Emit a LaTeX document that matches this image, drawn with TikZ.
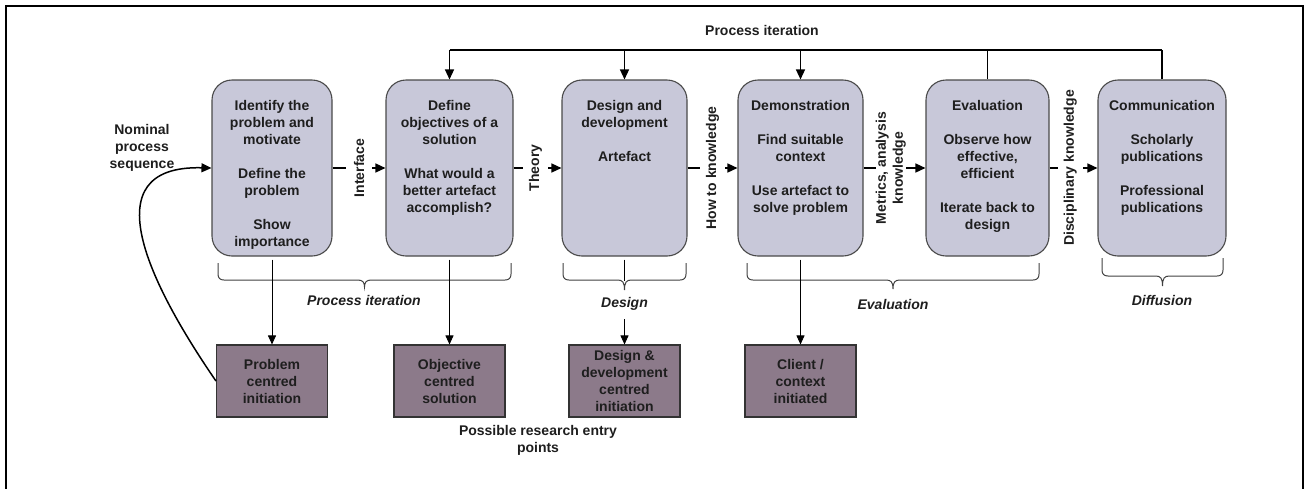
\documentclass[tikz,border=0pt]{standalone}
\usepackage{fontspec}
\setmainfont{Liberation Sans}
\usetikzlibrary{arrows.meta}

\definecolor{procfill}{HTML}{C8C8D9}
\definecolor{procline}{HTML}{4A4A4A}
\definecolor{entryfill}{HTML}{8C7A8A}
\definecolor{inkdark}{HTML}{1E1E1E}

% curly brace with long upright arms and a small downward cusp
% #1 left x, #2 right x, #3 arm top y, #4 bar y, #5 cusp tip y
\newcommand\phasebrace[5]{%
  \draw[bracepath] (#1,#3) -- (#1,{#4-6})
    .. controls (#1,{#4-2}) and ({#1+2},#4) .. ({#1+6},#4)
    -- ({(#1+#2)/2-7},#4)
    .. controls ({(#1+#2)/2-2},#4) and ({(#1+#2)/2},{#4+2}) .. ({(#1+#2)/2},#5)
    .. controls ({(#1+#2)/2},{#4+2}) and ({(#1+#2)/2+2},#4) .. ({(#1+#2)/2+7},#4)
    -- ({#2-6},#4)
    .. controls ({#2-2},#4) and (#2,{#4-2}) .. (#2,{#4-6})
    -- (#2,#3);}

\begin{document}
\begin{tikzpicture}[x=1pt,y=-1pt,
  font=\fontsize{14}{17}\selectfont\bfseries,
  stage/.style={draw=procline, line width=1.1pt, fill=procfill,
    rounded corners=20pt, minimum height=176pt, inner sep=0pt},
  stagetext/.style={anchor=north, align=center, inner sep=0pt, text=inkdark},
  entry/.style={draw=black!80, line width=1.1pt, fill=entryfill,
    minimum width=111pt, minimum height=72pt, align=center, inner sep=0pt,
    text=inkdark},
  flow/.style={line width=1.4pt, -{Triangle[length=10pt,width=9pt]}},
  iter/.style={line width=1.4pt},
  drop/.style={line width=0.9pt, -{Triangle[length=9pt,width=8pt]}},
  loopback/.style={line width=1.5pt, -{Triangle[length=10pt,width=9pt]}},
  gaplabel/.style={fill=white, rotate=90, inner xsep=1pt, align=center,
    text=inkdark},
  phase/.style={font=\fontsize{14}{17}\selectfont\bfseries\itshape,
    text=inkdark},
  plain/.style={align=center, text=inkdark},
  bracepath/.style={line width=1pt, draw=black!75}
]
\useasboundingbox (0,0) rectangle (1306,488);

% outer frame
\draw[line width=2pt] (6,495) -- (6,6) -- (1303,6) -- (1303,495);

% process stages
\node[stage, minimum width=120pt] (b1) at (272,168) {};
\node[stage, minimum width=127pt] (b2) at (449.5,168) {};
\node[stage, minimum width=125pt] (b3) at (624.5,168) {};
\node[stage, minimum width=125pt] (b4) at (800.5,168) {};
\node[stage, minimum width=123pt] (b5) at (987.5,168) {};
\node[stage, minimum width=128pt] (b6) at (1162,168) {};

\node[stagetext] (t1) at ([yshift=-19.5pt]b1.north)
  {\rule{0pt}{11pt}Identify the\\problem and\\motivate\\[17pt]Define the\\problem\\[17pt]Show\\importance};
\node[stagetext] (t2) at ([yshift=-19.5pt]b2.north)
  {\rule{0pt}{11pt}Define\\objectives of a\\solution\\[17pt]What would a\\better artefact\\accomplish?};
\node[stagetext] (t3) at ([yshift=-19.5pt]b3.north)
  {\rule{0pt}{11pt}Design and\\development\\[17pt]Artefact};
\node[stagetext] (t4) at ([yshift=-19.5pt]b4.north)
  {\rule{0pt}{11pt}Demonstration\\[17pt]Find suitable\\context\\[17pt]Use artefact to\\solve problem};
\node[stagetext] (t5) at ([yshift=-19.5pt]b5.north)
  {\rule{0pt}{11pt}Evaluation\\[17pt]Observe how\\effective,\\efficient\\[17pt]Iterate back to\\design};
\node[stagetext] (t6) at ([yshift=-19.5pt]b6.north)
  {\rule{0pt}{11pt}Communication\\[17pt]Scholarly\\publications\\[17pt]Professional\\publications};

% research entry points
\node[entry] (e1) at (272,381) {Problem\\centred\\initiation};
\node[entry] (e2) at (449.5,381) {Objective\\centred\\solution};
\node[entry] (e3) at (624.5,381) {Design \&\\development\\centred\\initiation};
\node[entry] (e4) at (800.5,381) {Client /\\context\\initiated};

% process iteration loop across the top
\coordinate (itL) at (449.5,50);
\coordinate (itR) at (1162,50);
\node[plain] (itlab) at (762,30) {Process iteration};
\draw[iter] (itL) -- (itR);
\draw[flow] (b2.north |- itL) -- (b2.north);
\draw[flow] (b3.north |- itL) -- (b3.north);
\draw[flow] (b4.north |- itL) -- (b4.north);
\draw[iter] (b5.north) -- (b5.north |- itL);
\draw[iter] (b6.north) -- (b6.north |- itL);

% nominal sequence between stages
\draw[flow] (b1) -- node[gaplabel, inner ysep=8pt, pos=0.5] (l1) {Interface} (b2);
\draw[flow] (b2) -- node[gaplabel, inner ysep=6pt, pos=0.46] (l2) {Theory} (b3);
\draw[flow] (b3) -- node[gaplabel, inner ysep=6pt, pos=0.5] (l3) {How to knowledge} (b4);
\draw[flow] (b4) -- node[gaplabel, inner ysep=0pt, pos=0.44] (l4) {Metrics, analysis\\knowledge} (b5);
\draw[flow] (b5) -- node[gaplabel, inner ysep=6pt, pos=0.43] (l5) {Disciplinary knowledge} (b6);

% grouping braces
\phasebrace{218}{511}{263}{280}{287}
\phasebrace{563}{686}{263}{280}{290}
\phasebrace{747}{1039}{263}{280}{289}
\phasebrace{1102}{1223}{258}{276}{286}

\node[phase] (p1) at (364,300) {Process iteration};
\node[phase] (p2) at (624.5,304) {Design};
\node[phase] (p3) at (893,304) {Evaluation};
\node[phase] (p4) at (1162,300) {Diffusion};

% entry point arrows
\draw[drop, shorten <=3pt] (b1.south) -- (e1.north);
\draw[drop, shorten <=3pt] (b2.south) -- (e2.north);
\draw[line width=0.9pt, shorten <=3pt] (b3.south) -- (624.5,281);
\draw[drop, shorten <=5pt] (p2.south) -- (e3.north);
\draw[drop, shorten <=3pt] (b4.south) -- (e4.north);

\node[plain] (entrylab) at (538,440.5) {Possible research entry\\points};

% loop back from the problem-centred entry
\node[plain] (nomlab) at (142,148) {Nominal\\process\\sequence};
\draw[loopback] (e1.west) .. controls (150,285) and (90,165) .. (b1.west);
\end{tikzpicture}
\end{document}
